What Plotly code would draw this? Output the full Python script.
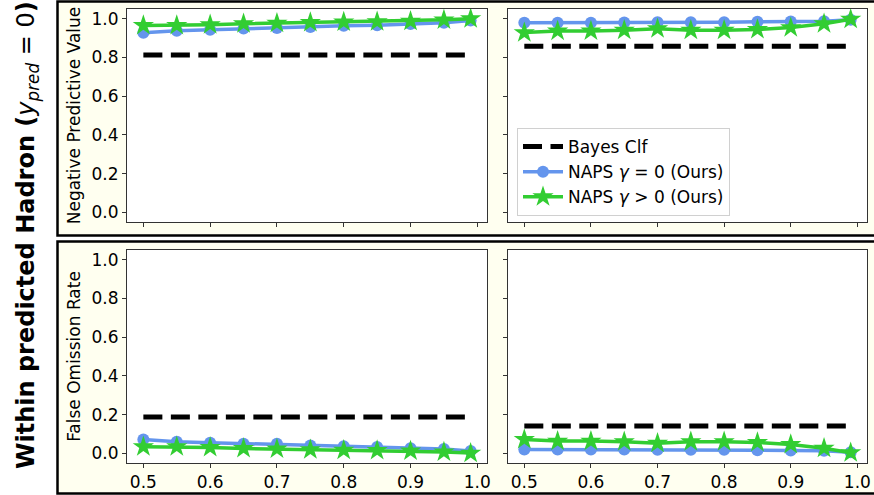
import plotly.graph_objects as go

thresholds = [0.5, 0.55, 0.6, 0.65, 0.7, 0.75, 0.8, 0.85, 0.9, 0.95, 0.99]

# Left column
npv_bayes_left = [0.813] * 11
npv_naps0_left = [0.927, 0.938, 0.943, 0.949, 0.952, 0.957, 0.963, 0.966, 0.973, 0.979, 0.990]
npv_napsg_left = [0.965, 0.965, 0.969, 0.974, 0.977, 0.980, 0.983, 0.984, 0.987, 0.994, 1.000]
for_bayes_left = [0.187] * 11
for_naps0_left = [0.072, 0.060, 0.055, 0.050, 0.049, 0.041, 0.036, 0.033, 0.026, 0.022, 0.012]
for_napsg_left = [0.034, 0.034, 0.030, 0.025, 0.022, 0.019, 0.016, 0.015, 0.012, 0.007, 0.001]

# Right column
npv_bayes_right = [0.857] * 11
npv_naps0_right = [0.979, 0.979, 0.979, 0.980, 0.981, 0.981, 0.982, 0.984, 0.985, 0.987, 0.995]
npv_napsg_right = [0.928, 0.936, 0.937, 0.940, 0.948, 0.940, 0.940, 0.944, 0.954, 0.974, 0.997]
for_bayes_right = [0.141] * 11
for_naps0_right = [0.020, 0.020, 0.020, 0.020, 0.018, 0.018, 0.018, 0.016, 0.015, 0.013, 0.005]
for_napsg_right = [0.072, 0.063, 0.063, 0.060, 0.052, 0.060, 0.060, 0.056, 0.046, 0.026, 0.003]

xticks = [0.5, 0.6, 0.7, 0.8, 0.9, 1.0]
yticks = [0.0, 0.2, 0.4, 0.6, 0.8, 1.0]

row_label = "<b>Within predicted Hadron (</b><i>y</i><sub><i>pred</i></sub> = 0<b>)</b>"
legend_names = ["Bayes Clf", "NAPS <i>γ</i> = 0 (Ours)", "NAPS <i>γ</i> > 0 (Ours)"]
ytitles = ["Negative Predictive Value", "False Omission Rate"]

W, H = 874, 495
BLUE = "#6495ED"
GREEN = "#32CD32"
FONT = "DejaVu Sans"

def px(xp):
    return xp / W

def py(yp):
    return 1 - yp / H

# axes domains (pixels)
xdom = [(127, 487), (508, 867)]
ydom = [(9, 222), (250, 463)]

fig = go.Figure()

panels = [
    (npv_bayes_left, npv_naps0_left, npv_napsg_left, 0, 0),
    (npv_bayes_right, npv_naps0_right, npv_napsg_right, 0, 1),
    (for_bayes_left, for_naps0_left, for_napsg_left, 1, 0),
    (for_bayes_right, for_naps0_right, for_napsg_right, 1, 1),
]

for k, (bayes, n0, ng, r, c) in enumerate(panels):
    idx = k + 1
    xa = "x" if idx == 1 else f"x{idx}"
    ya = "y" if idx == 1 else f"y{idx}"
    show = (k == 1)
    fig.add_trace(go.Scatter(
        x=thresholds, y=bayes, mode="lines", name=legend_names[0],
        line=dict(color="black", width=5, dash="19px,8.5px"),
        xaxis=xa, yaxis=ya, showlegend=show, legendrank=1))
    fig.add_trace(go.Scatter(
        x=thresholds, y=n0, mode="lines+markers", name=legend_names[1],
        line=dict(color=BLUE, width=3.5),
        marker=dict(symbol="circle", size=12, color=BLUE),
        xaxis=xa, yaxis=ya, showlegend=show, legendrank=2))
    fig.add_trace(go.Scatter(
        x=thresholds, y=ng, mode="lines+markers", name=legend_names[2],
        line=dict(color=GREEN, width=3.5),
        marker=dict(symbol="star", size=16, color=GREEN),
        xaxis=xa, yaxis=ya, showlegend=show, legendrank=3))

    axcommon = dict(showline=True, mirror=True, linecolor="#333", linewidth=1,
                    ticks="outside", ticklen=4, tickcolor="#333", tickwidth=1,
                    showgrid=False, zeroline=False, automargin=False,
                    tickfont=dict(family=FONT, size=17, color="black"))
    xkey = "xaxis" if idx == 1 else f"xaxis{idx}"
    ykey = "yaxis" if idx == 1 else f"yaxis{idx}"
    fig.layout[xkey] = dict(
        domain=[px(xdom[c][0]), px(xdom[c][1])], anchor=ya,
        range=[0.4755, 1.0145], tickvals=xticks, tickformat=".1f",
        showticklabels=(r == 1), **axcommon)
    ytitle = dict(text=ytitles[r], font=dict(family=FONT, size=17, color="black"), standoff=6) if c == 0 else None
    fig.layout[ykey] = dict(
        domain=[py(ydom[r][1]), py(ydom[r][0])], anchor=xa,
        range=[-0.05, 1.05], tickvals=yticks, tickformat=".1f",
        showticklabels=(c == 0), title=ytitle, **axcommon)

shapes = []
# panel backgrounds
for (y0, y1) in [(1.5, 235.5), (241.5, 493.5)]:
    shapes.append(dict(type="rect", xref="paper", yref="paper",
                       x0=px(57.5), x1=px(880), y0=py(y1), y1=py(y0),
                       fillcolor="#FFFFF0", line=dict(color="black", width=2.5),
                       layer="below"))
# white plot areas
for r in range(2):
    for c in range(2):
        shapes.append(dict(type="rect", xref="paper", yref="paper",
                           x0=px(xdom[c][0]), x1=px(xdom[c][1]),
                           y0=py(ydom[r][1]), y1=py(ydom[r][0]),
                           fillcolor="white", line=dict(width=0), layer="below"))

fig.update_layout(
    template="none",
    width=W, height=H,
    margin=dict(l=0, r=0, t=0, b=0, autoexpand=False),
    paper_bgcolor="white", plot_bgcolor="rgba(0,0,0,0)",
    font=dict(family=FONT, color="black"),
    shapes=shapes,
    showlegend=True,
    legend=dict(x=px(517), y=py(128), xanchor="left", yanchor="top",
                bgcolor="rgba(255,255,255,0.85)", bordercolor="#d0d0d0", borderwidth=1,
                font=dict(family=FONT, size=17, color="black"),
                tracegroupgap=0, itemwidth=40),
    annotations=[dict(text=row_label, x=px(28), y=py(235), xref="paper", yref="paper",
                      textangle=-90, showarrow=False,
                      font=dict(family=FONT, size=24, color="black"),
                      xanchor="center", yanchor="middle")],
)

fig.write_html("out.html", config={"displayModeBar": False},
               post_script="document.body.style.margin='0';document.body.style.padding='0';")
